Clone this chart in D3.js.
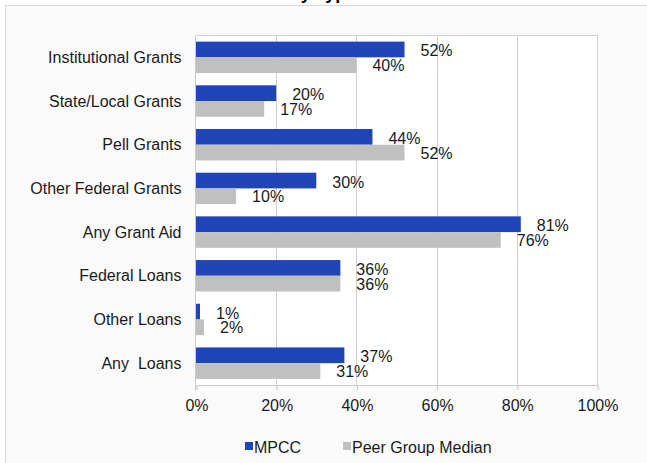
<!DOCTYPE html>
<html>
<head>
<meta charset="utf-8">
<script src="https://cdn.jsdelivr.net/npm/d3@7"></script>
<style>
  html, body { margin: 0; padding: 0; background: #ffffff; overflow: hidden; }
  svg { display: block; font-family: Arial, "Liberation Sans", sans-serif; }
  text { white-space: pre; }
</style>
</head>
<body>
<svg id="chart" width="647" height="463"></svg>
<script>
const categories = ["Institutional Grants", "State/Local Grants", "Pell Grants", "Other Federal Grants",
                    "Any Grant Aid", "Federal Loans", "Other Loans", "Any  Loans"];
const seriesNames = ["MPCC", "Peer Group Median"];
const mpccValues = [52, 20, 44, 30, 81, 36, 1, 37];
const peerValues = [40, 17, 52, 10, 76, 36, 2, 31];
const xTicks = [0, 20, 40, 60, 80, 100];
const titleText = "by Type";

const colors = ["#1f45b9", "#c0c0c0"];
const W = 647, H = 463;
const FS = 16;
const textColor = "#1a1a1a";
const plot = { left: 196, right: 597, top: 35.5, bottom: 385 };

const svg = d3.select("#chart");

// card background
svg.append("rect").attr("x", 5.5).attr("y", 5.5).attr("width", W + 10).attr("height", H + 10)
  .attr("fill", "#fafafa").attr("stroke", "#d9d9d9").attr("stroke-width", 1);

// partially visible title (cut off at the top, as in the reference)
svg.append("text").attr("x", 323).attr("y", -1).attr("text-anchor", "middle")
  .attr("font-size", 18).attr("font-weight", "bold").attr("fill", "#000").text(titleText);

const x = d3.scaleLinear().domain([0, 100]).range([plot.left, plot.right]);
const y = d3.scaleBand().domain(categories).range([plot.top, plot.bottom]).paddingInner(0.28).paddingOuter(0.14);
const ySub = d3.scaleBand().domain(seriesNames).range([0, y.bandwidth()]);

// plot background
svg.append("rect").attr("x", plot.left).attr("y", plot.top)
  .attr("width", plot.right - plot.left).attr("height", plot.bottom - plot.top).attr("fill", "#ffffff");

// gridlines
svg.append("g").selectAll("line").data(xTicks.slice(1)).join("line")
  .attr("x1", d => Math.round(x(d)) + 0.5).attr("x2", d => Math.round(x(d)) + 0.5)
  .attr("y1", plot.top).attr("y2", plot.bottom)
  .attr("stroke", "#d0d0d0").attr("stroke-width", 1);
// top border
svg.append("line").attr("x1", plot.left).attr("x2", plot.right + 1).attr("y1", plot.top).attr("y2", plot.top)
  .attr("stroke", "#d0d0d0");

// x axis
const xAxis = d3.axisBottom(x).tickValues(xTicks).tickFormat(d => d + "%").tickSize(5).tickSizeOuter(0).tickPadding(10);
const gx = svg.append("g").attr("transform", `translate(0.5,${plot.bottom})`).call(xAxis);
gx.select(".domain").attr("stroke", "#c8c8c8");
gx.selectAll(".tick line").attr("stroke", "#c8c8c8");
gx.selectAll(".tick text").attr("font-size", FS).attr("fill", textColor)
  .attr("font-family", "Arial, 'Liberation Sans', sans-serif").attr("dy", "0.71em");

// y axis
const yAxis = d3.axisLeft(y).tickSize(0).tickPadding(14);
const gy = svg.append("g").attr("transform", `translate(${plot.left - 0.5},0)`).call(yAxis);
gy.select(".domain").attr("stroke", "#c8c8c8").attr("d", `M0,${plot.top}V${plot.bottom + 5}`);
gy.selectAll(".tick text").attr("font-size", FS).attr("fill", textColor)
  .attr("font-family", "Arial, 'Liberation Sans', sans-serif").attr("dy", "0.35em");

// bars
const rows = categories.map((c, i) => ({ cat: c, vals: [mpccValues[i], peerValues[i]] }));
const groups = svg.append("g").selectAll("g").data(rows).join("g")
  .attr("transform", d => `translate(0,${y(d.cat)})`);

groups.selectAll("rect").data(d => d.vals.map((v, j) => ({ v, s: seriesNames[j], j }))).join("rect")
  .attr("x", x(0)).attr("y", d => ySub(d.s))
  .attr("width", d => x(d.v) - x(0)).attr("height", ySub.bandwidth())
  .attr("fill", d => colors[d.j]);

groups.selectAll("text").data(d => d.vals.map((v, j) => ({ v, s: seriesNames[j], j }))).join("text")
  .attr("x", d => x(d.v) + 16).attr("y", d => ySub(d.s) + ySub.bandwidth() / 2 + (d.j === 0 ? 7 : 6))
  .attr("font-size", FS).attr("fill", textColor).text(d => d.v + "%");

// legend
const legend = svg.append("g");
const legendX = [245, 343];
seriesNames.forEach((s, i) => {
  legend.append("rect").attr("x", legendX[i]).attr("y", 442).attr("width", 8).attr("height", 8).attr("fill", colors[i]);
  legend.append("text").attr("x", legendX[i] + 9).attr("y", 453).attr("font-size", FS).attr("fill", textColor).text(s);
});
</script>
</body>
</html>
